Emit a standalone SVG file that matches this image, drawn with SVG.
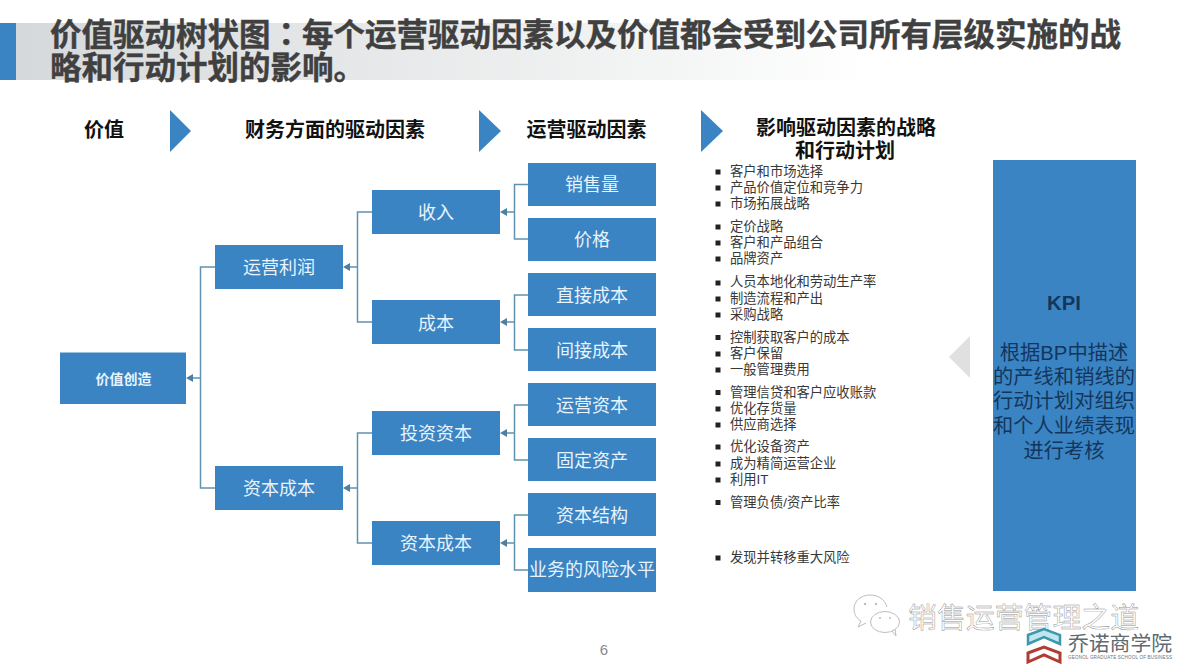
<svg xmlns="http://www.w3.org/2000/svg" width="1177" height="670" viewBox="0 0 1177 670">
<style>
text{font-family:"Liberation Sans","Noto Sans CJK SC",sans-serif}
.box{fill:#3a84c4}
.bt{fill:#e8f3fb;font-size:18px;text-anchor:middle}
.hd{fill:#111;font-size:20px;font-weight:bold;text-anchor:middle}
.ti{fill:#404040;stroke:#404040;stroke-width:.4;font-size:31.5px;font-weight:bold}
.li{fill:#383838;font-size:13.3px}
.bu{fill:#222}
.tri{fill:#3a84c4}
.cn{fill:none;stroke:#5f92ad;stroke-width:1.5}
.kt{fill:#14365c;font-size:20.3px;text-anchor:middle}
</style>
<defs>
<linearGradient id="tg" x1="0" x2="1" y1="0" y2="0"><stop offset="0" stop-color="#d6d9db"/><stop offset=".75" stop-color="#f3f4f4"/><stop offset="1" stop-color="#ffffff"/></linearGradient>
<marker id="ah" markerUnits="userSpaceOnUse" markerWidth="7" markerHeight="8" refX="0" refY="4" orient="auto"><path d="M0 0L7 4L0 8Z" fill="#4d7fa3"/></marker>
</defs>
<rect width="1177" height="670" fill="#fff"/>
<g id="title">
<rect x="16" y="23" width="852" height="57" fill="url(#tg)"/>
<rect x="0" y="23" width="16" height="57" fill="#3a84c4"/>
<text class="ti" x="50" y="45.5">价值驱动树状图<tspan style="font-family:'Noto Sans CJK TC',sans-serif">：</tspan>每个运营驱动因素以及价值都会受到公司所有层级实施的战</text>
<text class="ti" x="50" y="79">略和行动计划的影响。</text>
</g>
<g id="headers">
<text class="hd" x="104" y="137">价值</text>
<path class="tri" d="M170 110L191 131L170 152Z"/>
<text class="hd" x="335" y="137">财务方面的驱动因素</text>
<path class="tri" d="M479 110L501 131L479 152Z"/>
<text class="hd" x="586.5" y="137">运营驱动因素</text>
<path class="tri" d="M701 110L723 131L701 152Z"/>
<text class="hd" x="846" y="135">影响驱动因素的战略</text>
<text class="hd" x="845" y="158">和行动计划</text>
</g>
<g id="connectors" class="cn">
<path d="M528 184.5H514.5V239H528M514.5 212H507" marker-end="url(#ah)"/>
<path d="M528 295H514.5V350H528M514.5 322H507" marker-end="url(#ah)"/>
<path d="M528 405H514.5V460H528M514.5 433H507" marker-end="url(#ah)"/>
<path d="M528 515H514.5V570H528M514.5 543H507" marker-end="url(#ah)"/>
<path d="M372 212H357.5V322H372M357.5 267H350" marker-end="url(#ah)"/>
<path d="M372 433H357.5V543H372M357.5 488H350" marker-end="url(#ah)"/>
<path d="M215 267H200.5V488H215M200.5 378H193" marker-end="url(#ah)"/>
</g>
<g id="n-value"><rect class="box" x="60" y="352.5" width="126" height="51.5"/><text class="bt" x="123.5" y="384" style="font-size:14px;font-weight:bold">价值创造</text></g>
<g id="n-profit"><rect class="box" x="215" y="245" width="128" height="44"/><text class="bt" x="279" y="274">运营利润</text></g>
<g id="n-capcost"><rect class="box" x="215" y="466" width="128" height="44"/><text class="bt" x="279" y="495">资本成本</text></g>
<g id="n-rev"><rect class="box" x="372" y="190" width="128" height="44"/><text class="bt" x="436" y="219">收入</text></g>
<g id="n-cost"><rect class="box" x="372" y="300" width="128" height="44"/><text class="bt" x="436" y="330">成本</text></g>
<g id="n-inv"><rect class="box" x="372" y="411" width="128" height="44"/><text class="bt" x="436" y="440">投资资本</text></g>
<g id="n-cap2"><rect class="box" x="372" y="521" width="128" height="44"/><text class="bt" x="436" y="550">资本成本</text></g>
<g id="n-vol"><rect class="box" x="528" y="163" width="128" height="43"/><text class="bt" x="592" y="191">销售量</text></g>
<g id="n-price"><rect class="box" x="528" y="218" width="128" height="43"/><text class="bt" x="592" y="246">价格</text></g>
<g id="n-direct"><rect class="box" x="528" y="273" width="128" height="43"/><text class="bt" x="592" y="302">直接成本</text></g>
<g id="n-indirect"><rect class="box" x="528" y="328" width="128" height="43"/><text class="bt" x="592" y="357">间接成本</text></g>
<g id="n-op"><rect class="box" x="528" y="383" width="128" height="43"/><text class="bt" x="592" y="412">运营资本</text></g>
<g id="n-fixed"><rect class="box" x="528" y="438" width="128" height="43"/><text class="bt" x="592" y="467">固定资产</text></g>
<g id="n-struct"><rect class="box" x="528" y="493" width="128" height="43"/><text class="bt" x="592" y="522">资本结构</text></g>
<g id="n-risk"><rect class="box" x="528" y="548" width="128" height="44"/><text class="bt" x="592" y="576">业务的风险水平</text></g>
<g id="list">
<g class="bu">
<rect x="715.5" y="169.5" width="5" height="5"/><rect x="715.5" y="185.5" width="5" height="5"/><rect x="715.5" y="201.5" width="5" height="5"/>
<rect x="715.5" y="224.5" width="5" height="5"/><rect x="715.5" y="240.5" width="5" height="5"/><rect x="715.5" y="256.5" width="5" height="5"/>
<rect x="715.5" y="280.5" width="5" height="5"/><rect x="715.5" y="296.5" width="5" height="5"/><rect x="715.5" y="312.5" width="5" height="5"/>
<rect x="715.5" y="335" width="5" height="5"/><rect x="715.5" y="351.5" width="5" height="5"/><rect x="715.5" y="367.5" width="5" height="5"/>
<rect x="715.5" y="390" width="5" height="5"/><rect x="715.5" y="406.5" width="5" height="5"/><rect x="715.5" y="422.5" width="5" height="5"/>
<rect x="715.5" y="444.5" width="5" height="5"/><rect x="715.5" y="461.5" width="5" height="5"/><rect x="715.5" y="477.5" width="5" height="5"/>
<rect x="715.5" y="500" width="5" height="5"/><rect x="715.5" y="555.5" width="5" height="5"/>
</g>
<text class="li" x="730" y="176">客户和市场选择</text>
<text class="li" x="730" y="192">产品价值定位和竞争力</text>
<text class="li" x="730" y="208">市场拓展战略</text>
<text class="li" x="730" y="231">定价战略</text>
<text class="li" x="730" y="247">客户和产品组合</text>
<text class="li" x="730" y="263">品牌资产</text>
<text class="li" x="730" y="286">人员本地化和劳动生产率</text>
<text class="li" x="730" y="303">制造流程和产出</text>
<text class="li" x="730" y="319">采购战略</text>
<text class="li" x="730" y="342">控制获取客户的成本</text>
<text class="li" x="730" y="358">客户保留</text>
<text class="li" x="730" y="374">一般管理费用</text>
<text class="li" x="730" y="397">管理信贷和客户应收账款</text>
<text class="li" x="730" y="413">优化存货量</text>
<text class="li" x="730" y="429">供应商选择</text>
<text class="li" x="730" y="451">优化设备资产</text>
<text class="li" x="730" y="468">成为精简运营企业</text>
<text class="li" x="730" y="484">利用IT</text>
<text class="li" x="730" y="507">管理负债/资产比率</text>
<text class="li" x="730" y="562">发现并转移重大风险</text>
</g>
<path id="back-arrow" d="M970 336V378L949 357Z" fill="#e0e0e0"/>
<g id="n-kpi">
<rect class="box" x="993" y="160" width="143" height="431"/>
<text class="kt" x="1064" y="310" style="font-weight:bold">KPI</text>
<text class="kt" x="1064" y="360">根据BP中描述</text>
<text class="kt" x="1064" y="384">的产线和销线的</text>
<text class="kt" x="1064" y="408">行动计划对组织</text>
<text class="kt" x="1064" y="433">和个人业绩表现</text>
<text class="kt" x="1064" y="457.5">进行考核</text>
</g>
<text id="page" x="604" y="655" font-size="15" fill="#8a8a8a" text-anchor="middle">6</text>
<g id="watermark">
<g fill="none" stroke="#bdbdbd" stroke-width="1">
<path d="M861 621c-5-3-7-7-7-12c0-8 7-14 16-14s15 5 17 12M861 621l-3 6l8-4"/>
<ellipse cx="885" cy="622" rx="14.5" ry="10.5" fill="#fff"/><path d="M892 631l4 5l-1-7"/>
</g>
<g fill="#bdbdbd"><circle cx="865" cy="604" r="1.2"/><circle cx="876" cy="604" r="1.2"/><circle cx="880" cy="618" r="1"/><circle cx="890" cy="618" r="1"/></g>
<text x="908" y="628" font-size="28.9" fill="#fff" stroke="#8f8f8f" stroke-width=".45">销售运营管理之道</text>
<path d="M1028 635L1044 629L1060 635V644L1044 637L1028 644Z" fill="#bfe6ee" stroke="#3d97ad" stroke-width="2.5"/>
<path d="M1028 653L1044 647L1060 653V662L1044 655L1028 662Z" fill="#fff" stroke="#b23b32" stroke-width="3"/>
<text x="1068" y="651" font-size="20.8" fill="#5f6a72">乔诺商学院</text>
<text x="1068" y="659" font-size="4.6" fill="#6a7278" textLength="104">GEONOL GRADUATE SCHOOL OF BUSINESS</text>
</g>
</svg>
